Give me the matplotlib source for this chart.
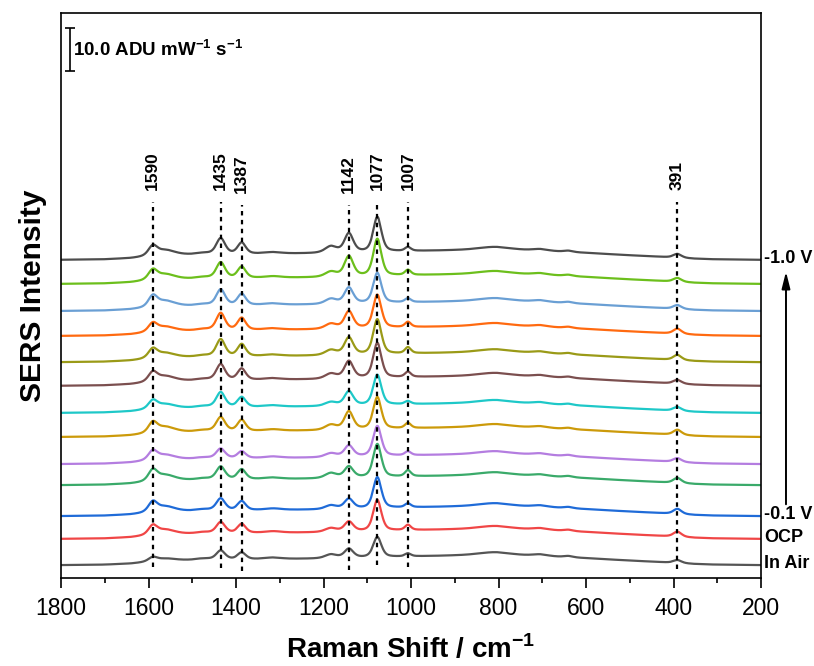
import numpy as np
import matplotlib
matplotlib.use("Agg")
import matplotlib.pyplot as plt
from matplotlib.ticker import MultipleLocator

plt.rcParams["font.family"] = ["Liberation Sans", "DejaVu Sans"]
plt.rcParams["mathtext.fontset"] = "custom"
plt.rcParams["mathtext.rm"] = "Liberation Sans"
plt.rcParams["mathtext.bf"] = "Liberation Sans:bold"

# traces, bottom to top (ADU mW^-1 s^-1)
trace_labels = ["In Air", "OCP", "-0.1 V", "", "", "", "", "", "", "", "", "", "-1.0 V"]
trace_colors = ["#555555", "#f04646", "#1f6bd8", "#3aaa6a", "#b47de0", "#cc9a0a",
                "#1ec8c8", "#7b4f4f", "#9a9a17", "#ff6a10", "#6a9fd4", "#6cbf1c", "#4d4d4d"]
offsets = [3.0, 9.1, 14.4, 21.6, 26.5, 32.8, 38.4, 44.7, 50.2, 56.3, 62.1, 68.4, 74.0]

# band amplitudes per trace
amp_1590 = [0.95, 2.09, 2.29, 2.48, 2.09, 2.35, 1.89, 2.15, 2.09, 1.95, 2.48, 2.23, 2.19]
amp_1560 = [0.5, 1.1, 1.2, 1.3, 1.1, 1.3, 1.0, 1.2, 1.1, 1.1, 1.3, 1.2, 1.2]
amp_1435 = [2.1, 2.6, 2.8, 3.0, 2.3, 3.3, 3.5, 3.7, 4.0, 4.0, 3.7, 3.7, 3.7]
amp_1387 = [1.6, 2.1, 2.1, 2.3, 1.6, 2.6, 2.3, 2.6, 2.8, 2.8, 2.6, 2.6, 2.6]
amp_1180 = [0.9, 0.9, 0.9, 1.2, 0.9, 1.2, 0.9, 1.2, 1.2, 1.2, 1.2, 1.2, 1.5]
amp_1142 = [2.1, 2.3, 2.3, 2.6, 2.6, 4.2, 3.3, 4.0, 4.0, 4.0, 3.7, 4.7, 4.4]
amp_1077 = [4.7, 7.2, 7.2, 7.7, 7.0, 7.4, 7.0, 8.1, 8.1, 7.7, 7.0, 8.6, 8.1]
amp_1007 = [0.7, 1.2, 0.9, 1.4, 0.9, 1.2, 0.7, 1.2, 1.4, 1.2, 0.9, 1.2, 0.9]
amp_391 = [0.7, 1.2, 1.2, 1.2, 0.9, 1.2, 0.9, 0.9, 1.2, 1.2, 0.9, 0.9, 0.9]

main_centers = [1590, 1562, 1435, 1387, 1183, 1142, 1077, 1007, 391]
main_hwhm = [12, 26, 12, 11, 16, 12, 11, 8, 11]
main_amps = [amp_1590, amp_1560, amp_1435, amp_1387, amp_1180, amp_1142, amp_1077, amp_1007, amp_391]

# weak bands common to all traces
weak_centers = [1475, 1315, 810, 705, 640]
weak_hwhm = [18, 22, 45, 20, 12]
weak_amps = [0.3, 0.35, 0.7, 0.35, 0.3]

# broad background
bg_x = [200, 300, 350, 430, 500, 600, 700, 800, 900, 1000, 1100, 1200, 1300, 1400, 1500, 1550, 1600, 1640, 1700, 1800]
bg_y = [0.0, 0.1, 0.25, 0.7, 1.05, 1.6, 2.1, 2.3, 2.2, 2.0, 1.75, 1.5, 1.4, 1.3, 1.15, 1.05, 0.7, 0.35, 0.1, 0.0]

# marked peaks: position, dotted line top/bottom
peak_pos = [1590, 1435, 1387, 1142, 1077, 1007, 391]
peak_line_top = [87.4, 87.4, 86.7, 86.7, 87.4, 87.4, 87.4]
peak_line_bot = [2.6, 2.3, 1.6, 1.9, 3.0, 2.6, 2.1]

ETA = 0.5  # lorentzian fraction of the band shape


def band(x, c, w):
    u = (x - c) / w
    return ETA / (1.0 + u**2) + (1 - ETA) * np.exp(-np.log(2) * u**2)


x = np.arange(200, 1800.5, 1.0)
background = np.interp(x, bg_x, bg_y)

fig = plt.figure(figsize=(8.14, 6.66), dpi=100)
ax = fig.add_axes([61 / 814, 1 - 578 / 666, 700 / 814, 565 / 666])

for i, off in enumerate(offsets):
    y = off + background
    for c, w, amps in zip(main_centers, main_hwhm, main_amps):
        y = y + amps[i] * band(x, c, w)
    for c, w, a in zip(weak_centers, weak_hwhm, weak_amps):
        y = y + a * band(x, c, w)
    ax.plot(x, y, color=trace_colors[i], lw=1.6, zorder=2)
    if trace_labels[i]:
        ax.text(1.005, off + 0.3, trace_labels[i], transform=ax.get_yaxis_transform(),
                ha="left", va="center", fontsize=13, fontweight="bold", clip_on=False)

for p, top, bot in zip(peak_pos, peak_line_top, peak_line_bot):
    ax.plot([p, p], [bot, top], color="black", lw=1.6, ls=(0, (2, 2)), zorder=3)
    ax.text(p, top + 2.8, str(p), rotation=90, ha="center", va="bottom", fontsize=12.5,
            fontweight="bold")

# scale bar: 10 ADU
ax.errorbar([1779], [122.9], yerr=[5.0], color="black", lw=1.2, capsize=3.5, capthick=1.2)
ax.text(1772, 122.9, r"10.0 ADU mW$^{\mathbf{-1}}$ s$^{\mathbf{-1}}$", ha="left", va="center",
        fontsize=13.5, fontweight="bold")

# potential arrow
ax.annotate("", xy=(1.0357, 71.9), xytext=(1.0357, 16.5), xycoords=ax.get_yaxis_transform(),
            arrowprops=dict(arrowstyle="-|>,head_length=1.0,head_width=0.25", color="black", lw=1.4),
            annotation_clip=False)

ax.set_xlim(1800, 200)
ax.set_ylim(0, 131.4)
ax.set_yticks([])
ax.xaxis.set_major_locator(MultipleLocator(200))
ax.xaxis.set_minor_locator(MultipleLocator(100))
ax.tick_params(axis="x", which="major", direction="out", length=7, width=1.2, labelsize=16.5, pad=7)
ax.tick_params(axis="x", which="minor", direction="out", length=3.5, width=1.2)
for s in ax.spines.values():
    s.set_linewidth(1.2)

ax.set_xlabel(r"Raman Shift / cm$^{\mathbf{-1}}$", fontsize=20, fontweight="bold", labelpad=10)
ax.set_ylabel("SERS Intensity", fontsize=21.5, fontweight="bold", labelpad=10)

fig.savefig("out.png", dpi=100)
